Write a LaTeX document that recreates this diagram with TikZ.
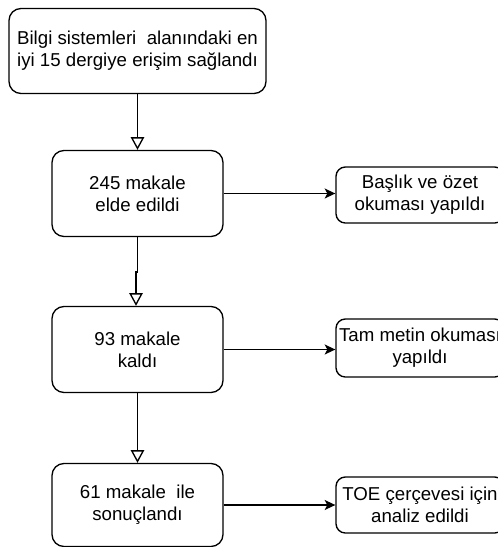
\documentclass[tikz,border=0pt]{standalone}
\usepackage{fontspec}
\setmainfont{Liberation Sans}
\usetikzlibrary{arrows.meta,positioning}

\begin{document}
\begin{tikzpicture}[x=0.75pt,y=-0.75pt,
    box/.style={draw,line width=1pt,rounded corners=9pt,align=center,inner sep=0pt,
      font=\fontsize{14}{16.5}\selectfont},
    stepbox/.style={box,minimum width=128.25pt,minimum height=64.5pt},
    side/.style={box,rounded corners=7pt,minimum width=126pt,minimum height=42pt},
    down/.style={line width=1pt,-{Triangle[open,length=9.5pt,width=10pt]}},
    toside/.style={line width=1pt,-{Stealth[length=8pt,width=7.5pt,inset=2pt]}}]
  \clip (0,0) rectangle (498,547);
  \node[box,minimum width=192.75pt,minimum height=63.75pt] (dergi) at (137.5,51)
    {Bilgi sistemleri \ alanındaki en\\iyi 15 dergiye erişim sağlandı};
  \node[stepbox] (elde) at (137.5,193.5) {245 makale\\elde edildi};
  \node[stepbox] (kaldi) at (137.5,349.5) {93 makale\\kaldı};
  \node[stepbox,minimum height=62.25pt] (sonuc) at (137.5,505) {61 makale \ ile\\sonuçlandı};
  \node[side] (baslik) at (420,195) {Başlık ve özet\\okuması yapıldı};
  \node[side,minimum height=43.5pt] (tam) at (420,348) {Tam metin okuması\\yapıldı};
  \node[side] (toe) at (420,505) {TOE çerçevesi için\\analiz edildi};
  % oklar
  \coordinate (kirik) at (136,272);
  \draw[down] (dergi.south) -- (elde.north);
  \draw[down] (elde.south) |- (kirik) -- (kirik |- kaldi.north);
  \draw[down] (kaldi.south) -- (sonuc.north);
  \draw[toside] (elde.east) -- (elde.east -| baslik.west);
  \draw[toside] (kaldi.east) -- (kaldi.east -| tam.west);
  \draw[toside] (sonuc.east) -- (sonuc.east -| toe.west);
\end{tikzpicture}
\end{document}
